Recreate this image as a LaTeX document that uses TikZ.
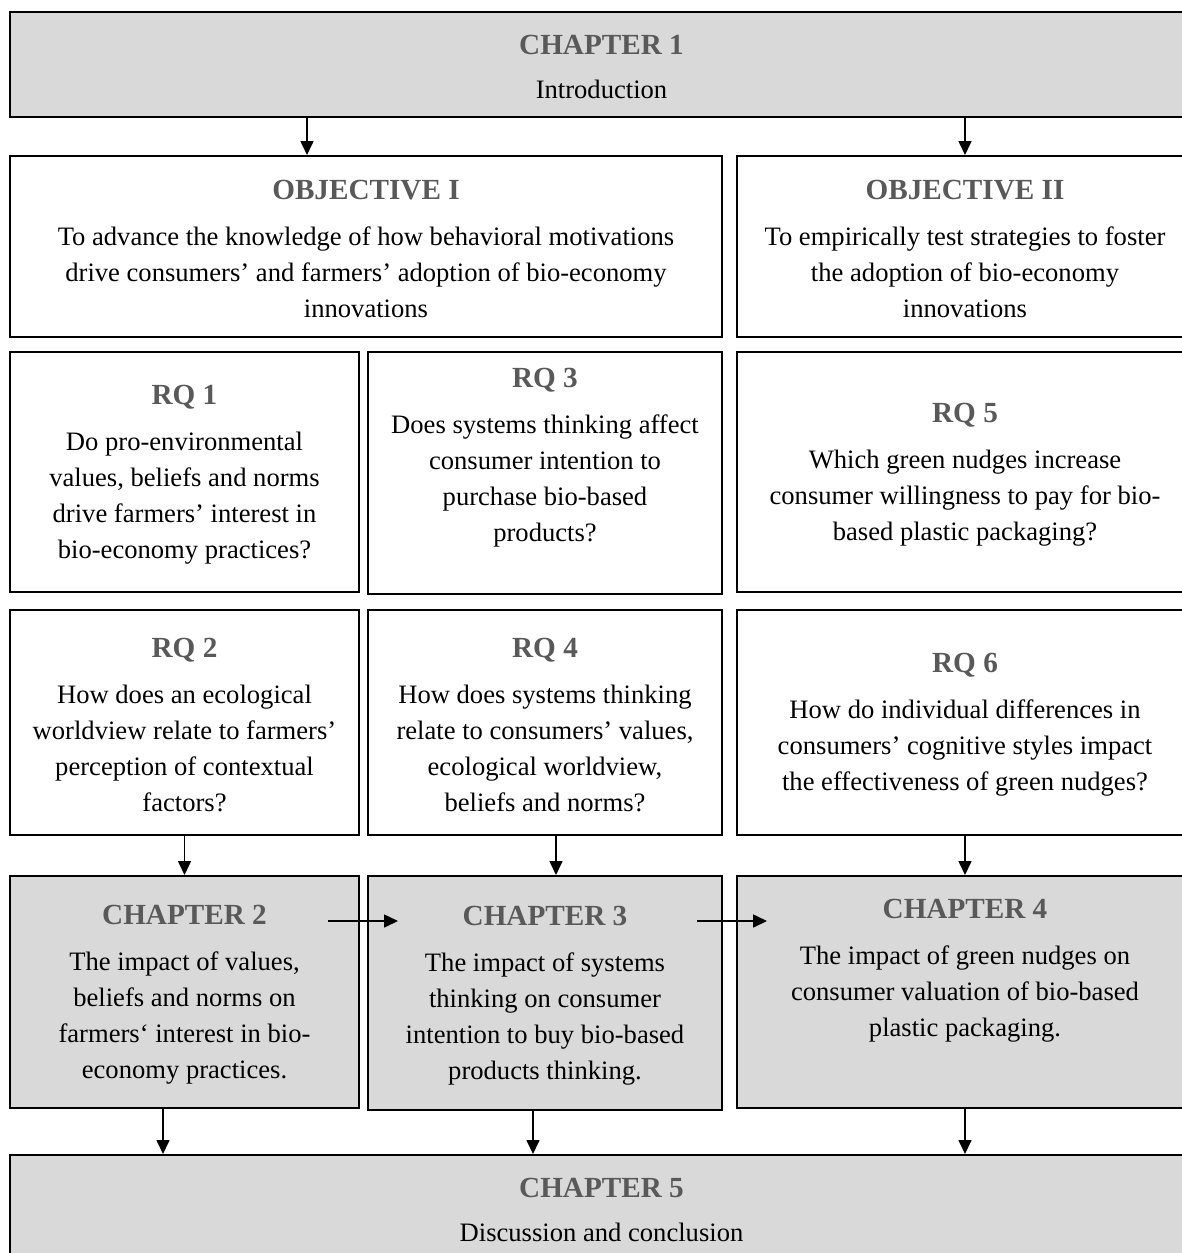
\documentclass[tikz,border=0pt]{standalone}
\usepackage{fontspec}
\setmainfont{Liberation Serif}
\usepackage{xcolor}
\usetikzlibrary{arrows.meta}
\definecolor{boxgray}{HTML}{D9D9D9}
\definecolor{headgray}{HTML}{595959}
\newcommand{\boxhead}[1]{\rule{0pt}{12pt}\textcolor{headgray}{\fontsize{14.6}{18}\selectfont\textbf{#1}}}
\begin{document}
\begin{tikzpicture}[x=0.5pt,y=-0.5pt,>={Triangle[length=7pt,width=6.5pt]},font=\fontsize{13.3}{18}\selectfont,
  box/.style={rectangle,draw=black,line width=1pt,fill=white,text=black,align=center,inner sep=0pt},
  chapbox/.style={box,fill=boxgray},
  flow/.style={->,draw=black,line width=0.8pt}]
\useasboundingbox (0,0) rectangle (1182,1253);
\node[chapbox,minimum width=591.5pt,minimum height=52.5pt] (ch-1) at (601.5,64.5) {\boxhead{CHAPTER 1}\\[4pt]Introduction};
\node[box,minimum width=356pt,minimum height=90.5pt] (obj-i) at (366,246.5) {\boxhead{OBJECTIVE I}\\[5pt]To advance the knowledge of how behavioral motivations\\drive consumers’ and farmers’ adoption of bio-economy\\innovations};
\node[box,minimum width=228pt,minimum height=90.5pt] (obj-ii) at (965,246.5) {\boxhead{OBJECTIVE II}\\[5pt]To empirically test strategies to foster\\the adoption of bio-economy\\innovations};
\node[box,minimum width=174.5pt,minimum height=120pt] (rq-1) at (184.5,472) {\boxhead{RQ 1}\\[5pt]Do pro-environmental\\values, beliefs and norms\\drive farmers’ interest in\\bio-economy practices?};
\node[box,minimum width=177pt,minimum height=121pt,text depth=21pt] (rq-3) at (545,473) {\boxhead{RQ 3}\\[5pt]Does systems thinking affect\\consumer intention to\\purchase bio-based\\products?};
\node[box,minimum width=228pt,minimum height=120pt] (rq-5) at (965,472) {\boxhead{RQ 5}\\[5pt]Which green nudges increase\\consumer willingness to pay for bio-\\based plastic packaging?};
\node[box,minimum width=174.5pt,minimum height=112.5pt] (rq-2) at (184.5,722.5) {\boxhead{RQ 2}\\[5pt]How does an ecological\\worldview relate to farmers’\\perception of contextual\\factors?};
\node[box,minimum width=177pt,minimum height=112.5pt] (rq-4) at (545,722.5) {\boxhead{RQ 4}\\[5pt]How does systems thinking\\relate to consumers’ values,\\ecological worldview,\\beliefs and norms?};
\node[box,minimum width=228pt,minimum height=112.5pt] (rq-6) at (965,722.5) {\boxhead{RQ 6}\\[5pt]How do individual differences in\\consumers’ cognitive styles impact\\the effectiveness of green nudges?};
\node[chapbox,minimum width=174.5pt,minimum height=116pt] (ch-2) at (184.5,992) {\boxhead{CHAPTER 2}\\[5pt]The impact of values,\\beliefs and norms on\\farmers‘ interest in bio-\\economy practices.};
\node[chapbox,minimum width=177pt,minimum height=117pt] (ch-3) at (545,993) {\boxhead{CHAPTER 3}\\[5pt]The impact of systems\\thinking on consumer\\intention to buy bio-based\\products thinking.};
\node[chapbox,minimum width=228pt,minimum height=116pt,text depth=27pt] (ch-4) at (965,992) {\boxhead{CHAPTER 4}\\[5pt]The impact of green nudges on\\consumer valuation of bio-based\\plastic packaging.};
\node[chapbox,minimum width=591.5pt,minimum height=52.5pt] (ch-5) at (601.5,1207.5) {\boxhead{CHAPTER 5}\\[4pt]Discussion and conclusion};
\coordinate (obj-i-in) at (307,0);
\coordinate (ch-3-in) at (556,0);
\coordinate (ch-2-out) at (163,0);
\coordinate (ch-3-out) at (533,0);
\coordinate (link-a-start) at (328,921);
\coordinate (link-a-end) at (398,921);
\coordinate (link-b-start) at (697,921);
\coordinate (link-b-end) at (767,921);
\draw[flow] (ch-1.south -| obj-i-in) -- (obj-i.north -| obj-i-in);
\draw[flow] (ch-1.south -| obj-ii.north) -- (obj-ii.north);
\draw[flow] (rq-2) -- (ch-2);
\draw[flow] (rq-4.south -| ch-3-in) -- (ch-3.north -| ch-3-in);
\draw[flow] (rq-6) -- (ch-4);
\draw[flow] (link-a-start) -- (link-a-end);
\draw[flow] (link-b-start) -- (link-b-end);
\draw[flow] (ch-2.south -| ch-2-out) -- (ch-5.north -| ch-2-out);
\draw[flow] (ch-3.south -| ch-3-out) -- (ch-5.north -| ch-3-out);
\draw[flow] (ch-4.south) -- (ch-5.north -| ch-4.south);
\end{tikzpicture}
\end{document}
